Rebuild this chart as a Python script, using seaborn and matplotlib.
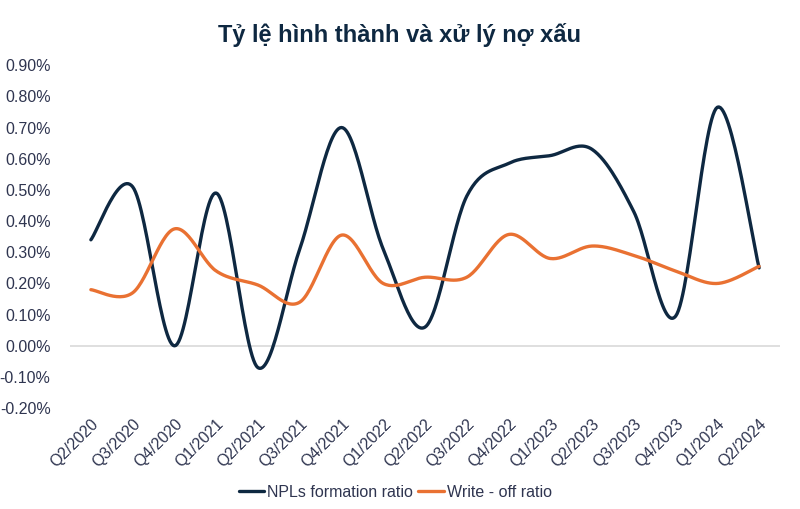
import numpy as np
import pandas as pd
import matplotlib
matplotlib.use("Agg")
import matplotlib.pyplot as plt
import seaborn as sns
from matplotlib.ticker import FuncFormatter

quarters = ["Q2/2020", "Q3/2020", "Q4/2020", "Q1/2021", "Q2/2021", "Q3/2021",
            "Q4/2021", "Q1/2022", "Q2/2022", "Q3/2022", "Q4/2022", "Q1/2023",
            "Q2/2023", "Q3/2023", "Q4/2023", "Q1/2024", "Q2/2024"]
npl_formation = [0.34, 0.51, 0.00, 0.49, -0.07, 0.31, 0.70, 0.31, 0.06, 0.48,
                 0.585, 0.61, 0.63, 0.43, 0.095, 0.765, 0.25]
write_off = [0.18, 0.17, 0.375, 0.24, 0.195, 0.14, 0.355, 0.20, 0.22, 0.22,
             0.357, 0.28, 0.32, 0.29, 0.24, 0.20, 0.255]
series_names = ["NPLs formation ratio", "Write - off ratio"]
colors = ["#0E2841", "#E97132"]


def smooth(xs, ys, n=30):
    """Excel-style smoothed line (Catmull-Rom Bezier) through the points."""
    P = np.column_stack([xs, ys]).astype(float)
    P = np.vstack([P[0], P, P[-1]])
    out = []
    t = np.linspace(0, 1, n)[:, None]
    for i in range(1, len(P) - 2):
        p0, p1, p2, p3 = P[i - 1], P[i], P[i + 1], P[i + 2]
        c1 = p1 + (p2 - p0) / 6
        c2 = p2 - (p3 - p1) / 6
        seg = ((1 - t) ** 3) * p1 + 3 * ((1 - t) ** 2) * t * c1 + 3 * (1 - t) * t ** 2 * c2 + t ** 3 * p2
        out.append(seg if i == 1 else seg[1:])
    return np.vstack(out)


sns.set_theme(style="white")
plt.rcParams["font.family"] = ["Liberation Sans", "DejaVu Sans"]

fig = plt.figure(figsize=(8, 5.09), dpi=100)
ax = fig.add_axes([0.0875, 0.198, 0.8875, 0.674])

xs = np.arange(len(quarters))
frames = []
for name, vals in zip(series_names, [npl_formation, write_off]):
    c = smooth(xs, vals)
    frames.append(pd.DataFrame({"x": c[:, 0], "y": c[:, 1], "series": name}))
df = pd.concat(frames, ignore_index=True)

sns.lineplot(data=df, x="x", y="y", hue="series", palette=colors, sort=False,
             linewidth=2.4, ax=ax, legend=True)

ax.axhline(0, color="#d9d9d9", linewidth=1.2, zorder=0)
ax.set_xlim(-0.5, len(quarters) - 0.5)
ax.set_ylim(-0.2, 0.9)
ax.set_yticks(np.arange(-0.2, 0.901, 0.1))
ax.yaxis.set_major_formatter(FuncFormatter(lambda v, p: f"{v:.2f}%"))
ax.set_xticks(xs)
ax.set_xticklabels(quarters, rotation=45, ha="right", rotation_mode="anchor")
ax.tick_params(axis="both", length=0, labelsize=11.5, labelcolor="#2f3550")
ax.tick_params(axis="y", pad=14)
ax.tick_params(axis="x", pad=6)
ax.set_xlabel("")
ax.set_ylabel("")
for s in ax.spines.values():
    s.set_visible(False)

fig.suptitle("Tỷ lệ hình thành và xử lý nợ xấu", x=0.5, y=0.955,
             fontsize=17, fontweight="bold", color="#0E2841")

handles, labels = ax.get_legend_handles_labels()
ax.legend(handles, labels, loc="center", bbox_to_anchor=(0.458, -0.245),
          ncol=2, frameon=False, fontsize=11.5, handlelength=1.6,
          handletextpad=0.2, columnspacing=0.3, labelcolor="#2f3550",
          borderaxespad=0, borderpad=0)

fig.savefig("out.png", dpi=100, facecolor="white")
